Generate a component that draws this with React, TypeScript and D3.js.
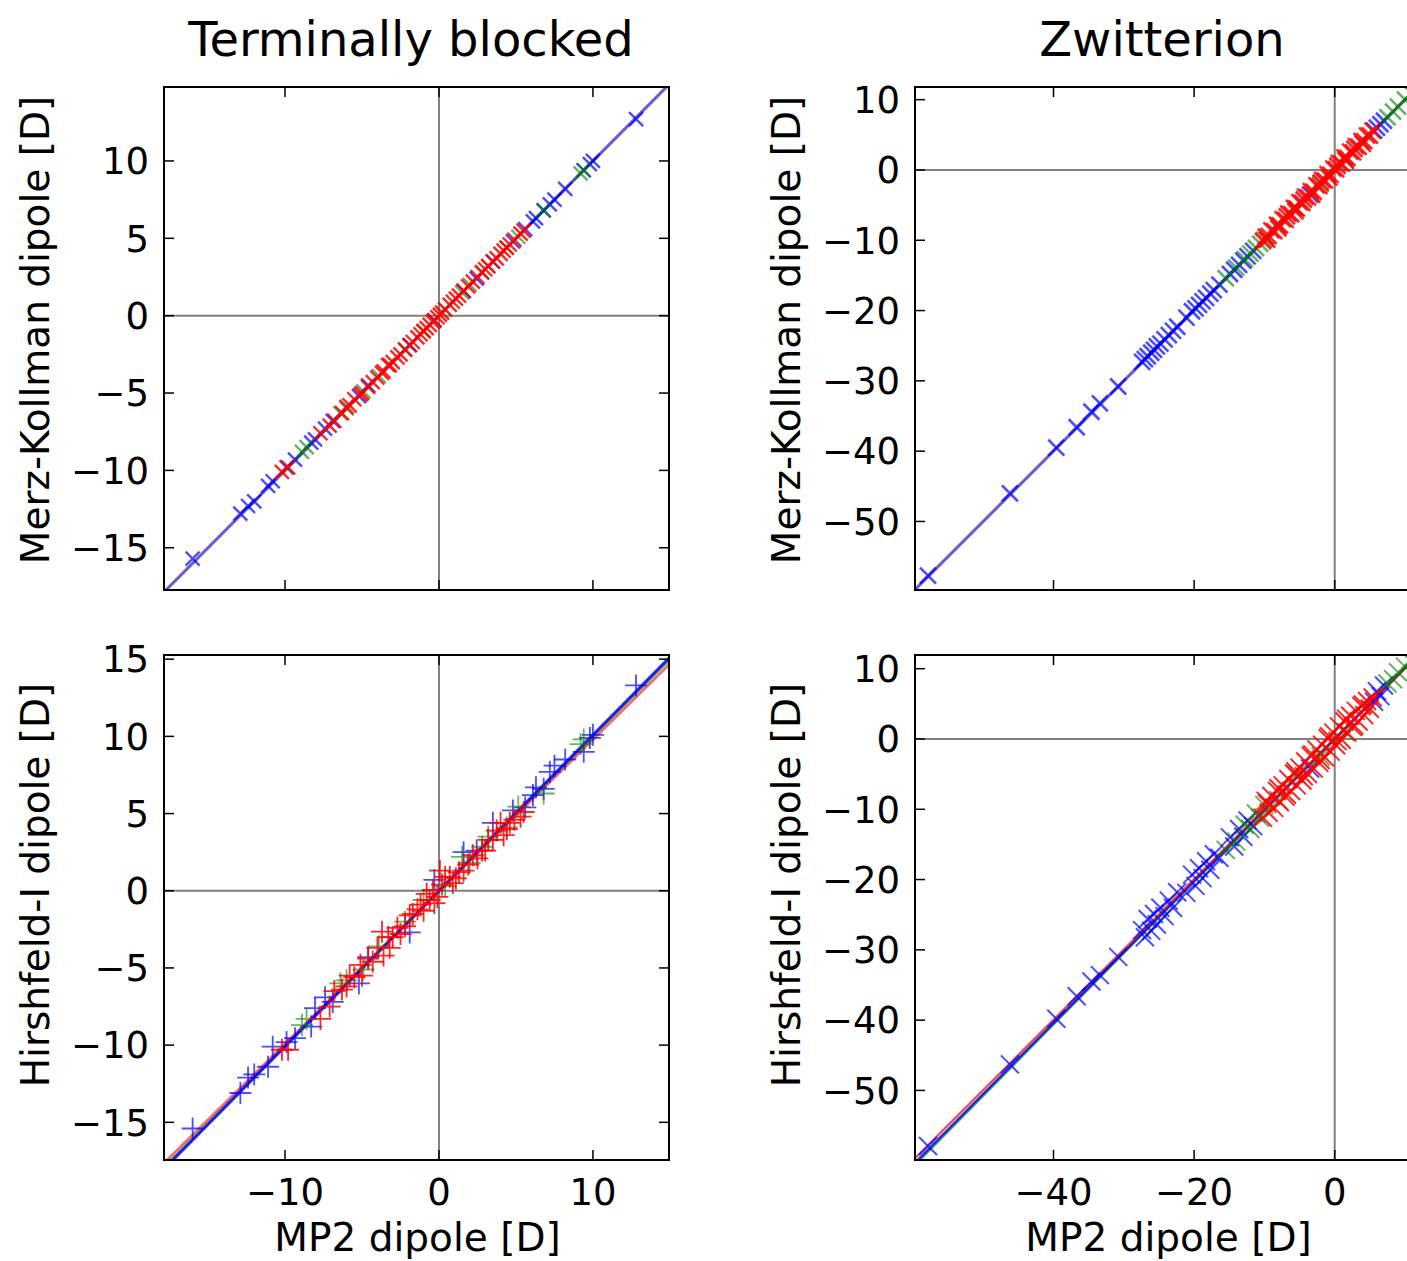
import React from "react";
import * as d3 from "d3";

// each row: [MP2 dipole, Merz-Kollman dipole, Hirshfeld-I dipole]
const tbBlue: number[][] = [
  [-16.0, -15.7, -15.4], [-12.9, -12.8, -13.1], [-12.4, -12.3, -12.1], [-12.0, -12.0, -11.9],
  [-11.1, -11.0, -11.4], [-10.8, -10.7, -10.1], [-9.9, -9.8, -9.8], [-9.35, -9.3, -9.55],
  [-8.3, -8.2, -8.8], [-8.05, -8.0, -7.6], [-7.4, -7.3, -6.9], [-6.9, -6.8, -7.2],
  [-5.2, -5.2, -6.0], [-4.6, -4.5, -4.3], [-1.9, -1.9, -2.7], [-0.3, -0.3, 0.7],
  [1.6, 1.6, 2.5], [2.45, 2.4, 2.6], [3.5, 3.5, 4.4], [4.8, 4.8, 5.2],
  [5.6, 5.6, 5.4], [6.1, 6.1, 6.2], [6.3, 6.3, 6.7], [6.8, 6.8, 6.6],
  [7.2, 7.2, 7.7], [7.5, 7.5, 8.1], [8.2, 8.2, 8.5], [9.4, 9.4, 9.0],
  [9.8, 9.8, 9.9], [10.0, 10.0, 10.1], [12.8, 12.7, 13.3],
];
const tbGreen: number[][] = [
  [-8.9, -8.8, -8.7], [-8.6, -8.5, -8.3], [-6.4, -6.3, -6.0], [-6.0, -6.0, -5.8],
  [-4.9, -4.9, -5.1], [-3.9, -3.9, -3.6], [-2.2, -2.2, -2.0], [-1.0, -1.0, -0.6],
  [0.4, 0.4, 0.3], [1.5, 1.5, 2.2], [2.0, 2.0, 1.8], [2.8, 2.8, 2.85],
  [3.2, 3.2, 3.5], [4.4, 4.4, 4.1], [5.15, 5.1, 5.45], [6.8, 6.8, 6.3],
  [9.2, 9.2, 9.5], [9.4, 9.4, 9.8],
];
const tbRed: number[][] = [
  [-10.2, -10.1, -10.3], [-9.8, -9.8, -10.3], [-7.7, -7.6, -8.3], [-7.1, -7.1, -7.5],
  [-6.8, -6.8, -6.5], [-6.3, -6.3, -6.4], [-6.0, -5.9, -6.2], [-5.8, -5.8, -5.5],
  [-5.5, -5.4, -5.6], [-5.1, -5.1, -4.8], [-5.0, -5.0, -5.5], [-4.6, -4.6, -4.4],
  [-4.3, -4.3, -4.6], [-4.0, -4.0, -3.7], [-3.7, -3.7, -2.65], [-3.6, -3.6, -4.2],
  [-3.3, -3.2, -3.0], [-3.2, -3.2, -3.7], [-3.0, -3.0, -3.0], [-2.7, -2.7, -2.4],
  [-2.5, -2.5, -2.8], [-2.2, -2.2, -2.3], [-1.9, -1.9, -1.6], [-1.7, -1.7, -1.5],
  [-1.4, -1.4, -1.2], [-1.2, -1.2, -0.9], [-1.0, -1.0, -1.3], [-0.8, -0.8, -0.2],
  [-0.6, -0.6, -0.6], [-0.4, -0.4, 0.05], [-0.3, -0.3, -0.8], [-0.1, -0.1, -0.4],
  [0.06, 0.05, 1.3], [0.2, 0.2, 0.4], [0.4, 0.4, 0.9], [0.7, 0.7, 0.9],
  [0.9, 0.9, 0.5], [1.1, 1.1, 0.8], [1.3, 1.3, 1.2], [1.6, 1.6, 1.3],
  [1.9, 1.9, 1.7], [2.2, 2.2, 2.3], [2.5, 2.5, 2.1], [2.8, 2.8, 2.6],
  [3.0, 3.0, 2.6], [3.2, 3.2, 3.3], [3.5, 3.5, 3.3], [3.75, 3.7, 3.9],
  [4.0, 4.0, 4.4], [4.2, 4.2, 3.6], [4.4, 4.4, 4.0], [4.6, 4.6, 4.4],
  [4.9, 4.9, 4.6], [5.3, 5.3, 4.8], [5.5, 5.5, 5.1],
];

const zwBlue: number[][] = [
  [-57.85, -57.7, -57.9], [-46.2, -46.0, -46.3], [-39.6, -39.5, -39.8], [-36.7, -36.6, -36.6],
  [-34.6, -34.4, -34.5], [-33.4, -33.2, -33.6], [-30.8, -30.8, -31.0], [-27.4, -27.3, -27.2],
  [-27.0, -26.9, -28.2], [-26.6, -26.5, -25.6], [-26.1, -26.0, -27.3], [-25.7, -25.6, -24.9],
  [-25.3, -25.1, -26.4], [-24.8, -24.7, -24.0], [-24.2, -24.1, -25.2], [-23.6, -23.5, -23.0],
  [-23.0, -22.9, -24.0], [-22.4, -22.3, -21.8], [-21.1, -21.0, -21.9], [-20.3, -20.1, -19.3],
  [-19.8, -19.7, -20.9], [-19.3, -19.2, -18.4], [-18.8, -18.7, -19.8], [-18.3, -18.2, -17.4],
  [-17.7, -17.6, -18.6], [-17.2, -17.1, -16.4], [-16.4, -16.3, -16.9], [-14.9, -14.8, -14.0],
  [-14.3, -14.2, -15.3], [-13.6, -13.5, -12.8], [-13.0, -12.9, -13.9], [-12.4, -12.3, -11.6],
  [-11.6, -11.5, -12.4], [-3.5, -3.5, -4.2], [5.6, 5.6, 5.3], [6.0, 6.0, 6.8],
  [6.5, 6.5, 6.1], [7.0, 7.0, 7.6],
];
const zwGreen: number[][] = [
  [-15.5, -15.4, -15.8], [-14.0, -13.9, -14.6], [-12.8, -12.7, -12.2], [-12.0, -11.9, -12.8],
  [-11.2, -11.1, -10.6], [-10.6, -10.5, -11.2], [-10.0, -9.9, -9.4], [-8.0, -8.0, -8.7],
  [-5.5, -5.5, -5.0], [-2.0, -2.0, -2.5], [1.5, 1.5, 1.0], [7.5, 7.5, 7.9],
  [8.3, 8.3, 8.5], [9.0, 9.0, 9.5], [10.0, 10.0, 10.3], [10.9, 10.9, 11.0],
];
const zwRed: number[][] = [
  [-10.2, -10.1, -11.2], [-9.8, -9.5, -8.8], [-9.4, -9.4, -10.5], [-9.0, -8.6, -8.1],
  [-8.6, -8.7, -9.8], [-8.2, -7.8, -7.4], [-7.8, -7.9, -9.0], [-7.4, -7.0, -6.6],
  [-7.0, -7.1, -8.2], [-6.6, -6.2, -5.7], [-6.2, -6.3, -7.4], [-5.8, -5.4, -4.9],
  [-5.4, -5.5, -6.6], [-5.0, -4.6, -4.1], [-4.6, -4.7, -5.9], [-4.2, -3.8, -3.2],
  [-3.8, -3.9, -5.0], [-3.4, -3.0, -2.4], [-3.0, -3.1, -4.2], [-2.6, -2.2, -1.5],
  [-2.2, -2.3, -3.4], [-1.8, -1.4, -0.8], [-1.4, -1.5, -2.6], [-1.0, -0.6, 0.1],
  [-0.6, -0.7, -1.8], [-0.2, 0.2, 0.9], [0.2, 0.1, -0.9], [0.6, 1.0, 1.8],
  [1.0, 0.9, -0.1], [1.4, 1.8, 2.5], [1.8, 1.7, 0.9], [2.2, 2.6, 3.3],
  [2.6, 2.5, 1.7], [3.0, 3.4, 4.0], [3.4, 3.3, 2.5], [3.8, 4.1, 4.7],
  [4.2, 4.1, 3.4], [4.6, 4.9, 5.4], [5.0, 4.9, 4.3], [5.4, 5.6, 5.9],
  [-8.0, -8.3, -7.0], [-6.8, -6.6, -7.9], [-5.6, -5.9, -4.6], [-4.4, -4.2, -5.3],
  [-3.2, -3.5, -2.2], [-2.0, -1.8, -3.0], [-0.8, -1.1, 0.4], [0.4, 0.6, -0.3],
  [1.6, 1.3, 2.9], [2.8, 3.0, 1.9], [4.0, 3.7, 4.9], [-9.6, -9.9, -9.2],
];

// linear fits [slope, intercept] in order blue, green, red
const tbMkFit = [[1.0, 0.0], [1.0, 0.0], [1.0, 0.0]];
const tbHiFit = [[1.009, 0.0], [1.0, -0.02], [0.984, -0.06]];
const zwMkFit = [[1.0, 0.0], [1.0, 0.0], [1.0, 0.0]];
const zwHiFit = [[1.01, 0.0], [1.015, 0.0], [1.0, 0.05]];

const seriesColors = ["#0000ff", "#008000", "#ff0000"];
const seriesAlpha = [0.7, 0.6, 0.85];

const tbXTicks = [-10, 0, 10];
const tbYTicks = [-15, -10, -5, 0, 5, 10];
const tbHiYTicks = [-15, -10, -5, 0, 5, 10, 15];
const zwXTicks = [-40, -20, 0];
const zwYTicks = [-50, -40, -30, -20, -10, 0, 10];

const FONT = "DejaVu Sans, Liberation Sans, sans-serif";

function Marker({ cx, cy, r, type, color, alpha, sw }) {
  const d =
    type === "+"
      ? `M${cx - r},${cy}L${cx + r},${cy}M${cx},${cy - r}L${cx},${cy + r}`
      : `M${cx - r},${cy - r}L${cx + r},${cy + r}M${cx - r},${cy + r}L${cx + r},${cy - r}`;
  return <path d={d} stroke={color} strokeOpacity={alpha} strokeWidth={sw} fill="none" />;
}

function Panel({ id, left, top, w, h, xDomain, yDomain, xTicks, yTicks, showX, col, fits, lineOrder, lineAlpha, lineWidth, marker, msize, sw, ylabel, ylabelY }) {
  const x = d3.scaleLinear().domain(xDomain).range([left, left + w]);
  const y = d3.scaleLinear().domain(yDomain).range([top + h, top]);
  const series = id.startsWith("tb") ? [tbBlue, tbGreen, tbRed] : [zwBlue, zwGreen, zwRed];
  const tick = 10;
  return (
    <g>
      <clipPath id={`clip-${id}`}>
        <rect x={left} y={top} width={w} height={h} />
      </clipPath>
      <g clipPath={`url(#clip-${id})`}>
        <line x1={x(0)} x2={x(0)} y1={top} y2={top + h} stroke="#808080" strokeWidth={2} />
        <line x1={left} x2={left + w} y1={y(0)} y2={y(0)} stroke="#808080" strokeWidth={2} />
        {lineOrder.map((k) => {
          const [m, b] = fits[k];
          const line = d3.line()([
            [x(xDomain[0]), y(m * xDomain[0] + b)],
            [x(xDomain[1]), y(m * xDomain[1] + b)],
          ]);
          return (
            <path key={k} d={line} stroke={seriesColors[k]} strokeOpacity={lineAlpha[k]} strokeWidth={lineWidth[k]} fill="none" />
          );
        })}
        {series.map((pts, k) =>
          pts.map((p, i) => (
            <Marker key={`${k}-${i}`} cx={x(p[0])} cy={y(p[col])} r={msize} type={marker} color={seriesColors[k]} alpha={seriesAlpha[k]} sw={sw} />
          ))
        )}
      </g>
      {xTicks.map((t) => (
        <g key={`xt${t}`}>
          <line x1={x(t)} x2={x(t)} y1={top + h} y2={top + h - tick} stroke="#000" strokeWidth={1.5} />
          <line x1={x(t)} x2={x(t)} y1={top} y2={top + tick} stroke="#000" strokeWidth={1.5} />
          {showX && (
            <text x={x(t)} y={top + h + 45} textAnchor="middle" fontSize={37} fontFamily={FONT}>
              {d3.format("d")(t).replace("-", "\u2212")}
            </text>
          )}
        </g>
      ))}
      {yTicks.map((t) => (
        <g key={`yt${t}`}>
          <line x1={left} x2={left + tick} y1={y(t)} y2={y(t)} stroke="#000" strokeWidth={1.5} />
          <line x1={left + w} x2={left + w - tick} y1={y(t)} y2={y(t)} stroke="#000" strokeWidth={1.5} />
          <text x={left - 15} y={y(t)} dy="0.36em" textAnchor="end" fontSize={37} fontFamily={FONT}>
            {d3.format("d")(t).replace("-", "\u2212")}
          </text>
        </g>
      ))}
      <rect x={left} y={top} width={w} height={h} fill="none" stroke="#000" strokeWidth={2} />
      <text
        transform={`translate(${left - 115},${ylabelY}) rotate(-90)`}
        textAnchor="middle"
        fontSize={39}
        fontFamily={FONT}
      >
        {ylabel}
      </text>
      {showX && (
        <text x={left + w / 2 + 1} y={top + h + 91} textAnchor="middle" fontSize={39} fontFamily={FONT}>
          MP2 dipole [D]
        </text>
      )}
    </g>
  );
}

const topLineAlpha = [0.5, 0.2, 0.2];
const topLineWidth = [3, 3, 3];
const hiLineAlpha = [0.85, 0.6, 0.6];
const hiLineWidth = [3, 2.5, 2.5];
const brLineAlpha = [0.8, 0.7, 0.75];
const brLineWidth = [2.5, 2.5, 2.2];

export default function App() {
  const W = 1407;
  const H = 1261;
  return (
    <svg width={W} height={H} style={{ position: "absolute", left: 0, top: 0, background: "#fff" }}>
      <rect width={W} height={H} fill="#fff" />
      <text x={411} y={56} textAnchor="middle" fontSize={48} fontFamily={FONT}>
        Terminally blocked
      </text>
      <text x={1162} y={56} textAnchor="middle" fontSize={48} fontFamily={FONT}>
        Zwitterion
      </text>
      <Panel id="tbMk" left={164} top={87} w={505} h={503} xDomain={[-17.86, 14.94]} yDomain={[-17.73, 14.78]}
        xTicks={tbXTicks} yTicks={tbYTicks} showX={false} col={1} fits={tbMkFit} lineOrder={[1, 2, 0]}
        lineAlpha={topLineAlpha} lineWidth={topLineWidth}
        marker="x" msize={7} sw={2.4} ylabel="Merz-Kollman dipole [D]" ylabelY={330} />
      <Panel id="tbHi" left={164} top={655} w={505} h={505} xDomain={[-17.86, 14.94]} yDomain={[-17.44, 15.27]}
        xTicks={tbXTicks} yTicks={tbHiYTicks} showX={true} col={2} fits={tbHiFit} lineOrder={[1, 2, 0]}
        lineAlpha={hiLineAlpha} lineWidth={hiLineWidth}
        marker="+" msize={11} sw={1.8} ylabel="Hirshfeld-I dipole [D]" ylabelY={885} />
      <Panel id="zwMk" left={915} top={87} w={505} h={503} xDomain={[-59.7, 12.13]} yDomain={[-59.75, 11.8]}
        xTicks={zwXTicks} yTicks={zwYTicks} showX={false} col={1} fits={zwMkFit} lineOrder={[1, 2, 0]}
        lineAlpha={topLineAlpha} lineWidth={topLineWidth}
        marker="x" msize={8} sw={2.6} ylabel="Merz-Kollman dipole [D]" ylabelY={330} />
      <Panel id="zwHi" left={915} top={655} w={505} h={505} xDomain={[-59.7, 12.13]} yDomain={[-59.9, 11.95]}
        xTicks={zwXTicks} yTicks={zwYTicks} showX={true} col={2} fits={zwHiFit} lineOrder={[1, 0, 2]}
        lineAlpha={brLineAlpha} lineWidth={brLineWidth}
        marker="x" msize={9} sw={2} ylabel="Hirshfeld-I dipole [D]" ylabelY={885} />
    </svg>
  );
}
